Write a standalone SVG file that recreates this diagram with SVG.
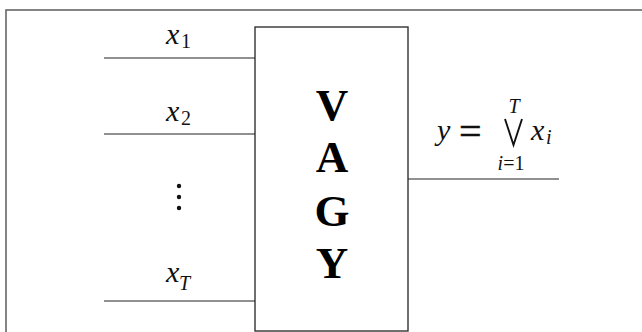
<svg xmlns="http://www.w3.org/2000/svg" width="642" height="332" viewBox="0 0 642 332">
<style>
.math{font-family:"Liberation Serif","Times New Roman",serif;font-style:italic;font-size:30px;fill:#111}
.sub{font-family:"Liberation Serif","Times New Roman",serif;font-size:20px;fill:#111}
.big{font-family:"Liberation Serif","Times New Roman",serif;font-weight:bold;font-size:45px;fill:#000;text-anchor:middle}
.wire{stroke:#222;stroke-width:1.2;fill:none}
</style>
<rect x="0" y="0" width="642" height="332" fill="#fff"/>
<rect id="frame" x="6" y="10" width="700" height="400" fill="none" stroke="#666" stroke-width="1.6"/>
<g id="gate">
<rect x="255" y="27" width="153" height="304" fill="none" stroke="#333" stroke-width="1.4"/>
<text class="big" x="332" y="120">V</text>
<text class="big" x="332" y="172">A</text>
<text class="big" x="332" y="226">G</text>
<text class="big" x="332" y="278">Y</text>
</g>
<g id="connectors">
<line class="wire" x1="104" y1="58" x2="255" y2="58"/>
<line class="wire" x1="104" y1="134" x2="255" y2="134"/>
<line class="wire" x1="104" y1="301" x2="255" y2="301"/>
<line class="wire" x1="408" y1="179" x2="559" y2="179"/>
</g>
<g id="label-x1">
<text class="math" x="166" y="44">x</text>
<text class="sub" x="181" y="48">1</text>
</g>
<g id="label-x2">
<text class="math" x="166" y="121">x</text>
<text class="sub" x="181" y="125">2</text>
</g>
<g id="dots" fill="#111">
<circle cx="179" cy="186" r="2.2"/>
<circle cx="179" cy="197" r="2.2"/>
<circle cx="179" cy="208" r="2.2"/>
</g>
<g id="label-xT">
<text class="math" x="166" y="282">x</text>
<text class="sub" x="179" y="290" font-style="italic">T</text>
</g>
<g id="label-y">
<text class="math" x="437" y="140">y</text>
<text x="459" y="145" font-family="'Liberation Serif', serif" font-size="40" fill="#111" stroke="#111" stroke-width="0.5">=</text>
<path d="M505,119 L513.5,145 L522,119" fill="none" stroke="#111" stroke-width="1.9"/>
<text class="sub" x="514" y="113" text-anchor="middle" font-style="italic" font-size="21">T</text>
<text class="math" x="531" y="140">x</text>
<text class="sub" x="546" y="144" font-style="italic">i</text>
<text class="sub" x="511" y="170" text-anchor="middle" font-size="22"><tspan font-style="italic">i</tspan>=1</text>
</g>
</svg>
